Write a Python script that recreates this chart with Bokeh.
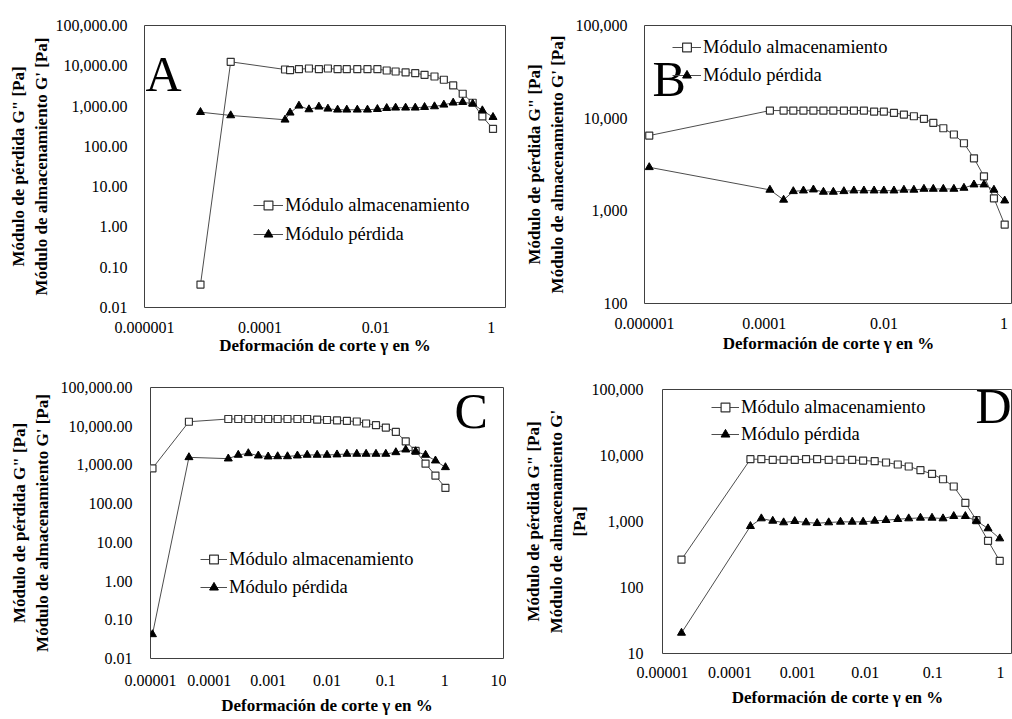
import numpy as np
from bokeh.plotting import figure
from bokeh.models import (Range1d, FixedTicker, CustomJSTickFormatter, Label,
                          Legend, LegendItem)
from bokeh.layouts import column, row
from bokeh.embed import file_html
from bokeh.resources import INLINE

FONT = "Liberation Serif"

# ---------------- data ----------------
series_names = ["Módulo almacenamiento", "Módulo pérdida"]
x_title = "Deformación de corte γ en %"
y_title_2 = 'Módulo de pérdida G" [Pa]\nMódulo de almacenamiento G\' [Pa]'
y_title_3 = 'Módulo de pérdida G" [Pa]\nMódulo de almacenamiento G\'\n[Pa]'

# Panel A
a_strain = [9.3e-6, 3.1e-5, 2.7e-4, 3.3e-4, 4.7e-4, 7.0e-4, 1.04e-3, 1.49e-3, 2.19e-3,
            3.16e-3, 4.8e-3, 7.2e-3, 0.0107, 0.0155, 0.0221, 0.0329, 0.0483, 0.070,
            0.104, 0.151, 0.219, 0.32, 0.476, 0.70, 1.07]
a_storage = [0.037, 12560, 8090, 7760, 8240, 8570, 8240, 8570, 8240, 8240, 8240, 8240,
             8240, 7640, 7220, 6830, 6550, 5980, 5420, 4500, 3250, 2020, 1210, 552, 271]
a_loss = [706, 585, 457, 683, 1016, 824, 962, 857, 810, 810, 810, 810, 838, 887, 908,
          908, 908, 940, 978, 1077, 1208, 1250, 1141, 778, 531]

# Panel B
b_strain = [1.2e-6, 1.24e-4, 2.1e-4, 3.05e-4, 4.5e-4, 6.6e-4, 9.7e-4, 1.42e-3, 2.13e-3,
            3.13e-3, 4.6e-3, 6.8e-3, 9.9e-3, 0.0146, 0.0214, 0.0314, 0.0462, 0.0662,
            0.0973, 0.146, 0.215, 0.316, 0.464, 0.681, 1.03]
b_storage = [6490, 12080, 12080, 12080, 12080, 12080, 12080, 12080, 12080, 12080, 12080,
             11780, 11780, 11400, 10930, 10490, 9830, 8900, 7780, 6660, 5360, 3690,
             2360, 1366, 710]
b_loss = [2950, 1683, 1313, 1625, 1652, 1694, 1600, 1600, 1625, 1652, 1652, 1652, 1652,
          1652, 1683, 1683, 1722, 1722, 1722, 1722, 1766, 1918, 1918, 1683, 1288]

# Panel C
c_strain = [1.08e-5, 4.5e-5, 2.1e-4, 3.1e-4, 4.6e-4, 6.8e-4, 1.0e-3, 1.45e-3, 2.13e-3,
            3.14e-3, 4.6e-3, 6.8e-3, 0.0100, 0.0148, 0.0218, 0.0321, 0.0462, 0.068,
            0.100, 0.148, 0.218, 0.321, 0.473, 0.697, 1.03]
c_storage = [817, 13060, 15350, 15350, 15350, 15350, 15350, 15350, 15350, 15350, 15350,
             14720, 14460, 14100, 13700, 13220, 11750, 10620, 9250, 7130, 4050, 2300,
             1080, 530, 255]
c_loss = [0.042, 1570, 1453, 1811, 1992, 1738, 1638, 1660, 1660, 1738, 1811, 1811, 1811,
          1850, 1921, 1921, 1921, 1921, 1921, 2113, 2478, 2243, 1811, 1291, 867]

# Panel D
d_strain = [1.91e-5, 2.0e-4, 2.9e-4, 4.28e-4, 6.2e-4, 9.06e-4, 1.33e-3, 1.94e-3, 2.88e-3,
            4.3e-3, 6.4e-3, 9.3e-3, 0.0138, 0.0203, 0.0303, 0.044, 0.0656, 0.0973,
            0.1415, 0.204, 0.303, 0.442, 0.656, 0.977]
d_storage = [265, 8790, 8790, 8580, 8580, 8580, 8790, 8790, 8580, 8580, 8580, 8390, 8200,
             7830, 7300, 6810, 5990, 5260, 4370, 3390, 1914, 1047, 510, 253]
d_loss = [20.5, 849, 1110, 1021, 966, 1011, 966, 942, 966, 987, 987, 987, 1021, 1047,
          1084, 1110, 1135, 1135, 1110, 1203, 1203, 1021, 784, 552]

# ticks
x_ticks_ab = [1e-6, 1e-4, 1e-2, 1]
x_labels_ab = ["0.000001", "0.0001", "0.01", "1"]
x_ticks_c = [1e-5, 1e-4, 1e-3, 1e-2, 1e-1, 1, 10]
x_labels_c = ["0.00001", "0.0001", "0.001", "0.01", "0.1", "1", "10"]
x_ticks_d = [1e-5, 1e-4, 1e-3, 1e-2, 1e-1, 1]
x_labels_d = ["0.00001", "0.0001", "0.001", "0.01", "0.1", "1"]
y_ticks_ac = [0.01, 0.1, 1, 10, 100, 1000, 10000, 100000]
y_labels_ac = ["0.01", "0.10", "1.00", "10.00", "100.00", "1,000.00", "10,000.00",
               "100,000.00"]
y_ticks_b = [100, 1000, 10000, 100000]
y_labels_b = ["100", "1,000", "10,000", "100,000"]
y_ticks_d = [10, 100, 1000, 10000, 100000]
y_labels_d = ["10", "100", "1,000", "10,000", "100,000"]

LINE = "#4d4d4d"


def fmt(ticks, labels):
    return CustomJSTickFormatter(args=dict(tv=ticks, lb=labels), code="""
        for (let i = 0; i < tv.length; i++) {
            if (Math.abs(Math.log10(tv[i]) - Math.log10(tick)) < 1e-6) return lb[i];
        }
        return '';
    """)


def panel(w, h, borders, xr, yr, xt, xl, yt, yl, strain, storage, loss,
          legend_loc, glyph_w, spacing, letter, letter_xy,
          x_std, x_title_std, y_std, y_title_std, y_title):
    bl, br, bt, bb = borders
    p = figure(width=w, height=h, x_axis_type="log", y_axis_type="log",
               x_range=Range1d(*xr), y_range=Range1d(*yr), output_backend="svg",
               toolbar_location=None, min_border_left=bl, min_border_right=br,
               min_border_top=bt, min_border_bottom=bb)
    p.xgrid.visible = False
    p.ygrid.visible = False
    p.outline_line_color = "#404040"
    p.outline_line_width = 1
    p.background_fill_color = "white"
    p.border_fill_color = "white"
    for ax, ticks, labels, standoff, ttl, tstd in (
            (p.xaxis[0], xt, xl, x_std, x_title, x_title_std),
            (p.yaxis[0], yt, yl, y_std, y_title, y_title_std)):
        ax.ticker = FixedTicker(ticks=ticks, minor_ticks=[])
        ax.formatter = fmt(ticks, labels)
        ax.axis_line_color = None
        ax.major_tick_line_color = None
        ax.minor_tick_line_color = None
        ax.major_tick_out = 0
        ax.major_tick_in = 0
        ax.major_label_standoff = standoff
        ax.major_label_text_font = FONT
        ax.major_label_text_font_size = "16px"
        ax.major_label_text_color = "black"
        ax.axis_label = ttl
        ax.axis_label_standoff = tstd
        ax.axis_label_text_font = FONT
        ax.axis_label_text_font_size = "17px"
        ax.axis_label_text_font_style = "bold"
        ax.axis_label_text_color = "black"

    r1 = p.line(strain, storage, line_color=LINE, line_width=1)
    s1 = p.scatter(strain, storage, marker="square", size=7, fill_color="white",
                   line_color="#333333", line_width=1.2)
    r2 = p.line(strain, loss, line_color=LINE, line_width=1)
    s2 = p.scatter(strain, loss, marker="triangle", size=8, fill_color="black",
                   line_color="black", line_width=1)

    leg = Legend(items=[LegendItem(label=series_names[0], renderers=[r1, s1]),
                        LegendItem(label=series_names[1], renderers=[r2, s2])],
                 location=legend_loc, padding=0, margin=0, spacing=spacing,
                 glyph_width=glyph_w, glyph_height=22, label_height=22,
                 label_standoff=2, border_line_color=None,
                 background_fill_alpha=0, label_text_font=FONT,
                 label_text_font_size="18.5px", label_text_color="black")
    p.add_layout(leg)

    p.add_layout(Label(x=letter_xy[0], y=letter_xy[1], x_units="screen", y_units="screen",
                       text=letter, text_font=FONT, text_font_size="50px",
                       text_color="black", text_align="left", text_baseline="alphabetic"))
    return p


pA = panel(506, 360, (144, 1, 25, 53), (1e-6, 1.76), (0.01, 1e5),
           x_ticks_ab, x_labels_ab, y_ticks_ac, y_labels_ac,
           a_strain, a_storage, a_loss,
           (109, 62), 30, 7, "A", (1, 234), 14, 0, 17, 2, y_title_2)
pB = panel(506, 360, (138, 0, 25, 57), (1e-6, 1.39), (100, 1e5),
           x_ticks_ab, x_labels_ab, y_ticks_b, y_labels_b,
           b_strain, b_storage, b_loss,
           (28, 217), 29, 6, "B", (8, 225), 14, 2, 17, 6, y_title_2)
pC = panel(506, 359, (150, 3, 27, 61), (1e-5, 10), (0.01, 1e5),
           x_ticks_c, x_labels_c, y_ticks_ac, y_labels_ac,
           c_strain, c_storage, c_loss,
           (50, 60), 27, 6, "C", (304, 248), 16, 7, 18, 6, y_title_2)
pD = panel(506, 359, (156, 0, 29, 66), (1e-5, 1.51), (10, 1e5),
           x_ticks_d, x_labels_d, y_ticks_d, y_labels_d,
           d_strain, d_storage, d_loss,
           (49, 208), 28, 5, "D", (313, 248), 13, 7, 19, 0, y_title_3)

layout = column(row(column(pA), column(pB)), row(column(pC), column(pD)))
open("out.html", "w").write(file_html(layout, INLINE))
